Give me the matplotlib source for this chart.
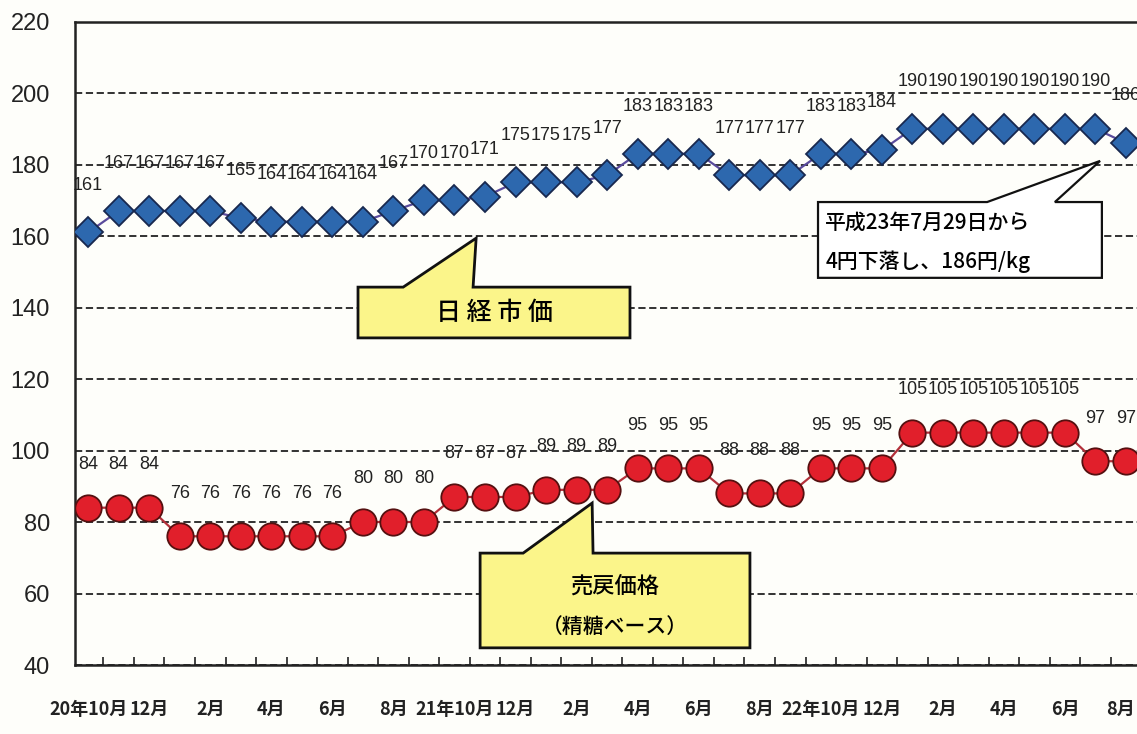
import numpy as np
import matplotlib.pyplot as plt
import matplotlib.transforms as mtransforms
from matplotlib.patches import Polygon

# 数字は Liberation Sans、日本語は Noto Sans CJK JP
plt.rcParams['font.family'] = ['Liberation Sans', 'Noto Sans CJK JP', 'DejaVu Sans']

# データ（20年10月〜23年8月、月次）
months = ['20年10月', '11月', '12月', '1月', '2月', '3月', '4月', '5月', '6月', '7月', '8月', '9月',
          '21年10月', '11月', '12月', '1月', '2月', '3月', '4月', '5月', '6月', '7月', '8月', '9月',
          '22年10月', '11月', '12月', '1月', '2月', '3月', '4月', '5月', '6月', '7月', '8月']
nikkei = [161, 167, 167, 167, 167, 165, 164, 164, 164, 164, 167, 170,
          170, 171, 175, 175, 175, 177, 183, 183, 183, 177, 177, 177,
          183, 183, 184, 190, 190, 190, 190, 190, 190, 190, 186]
baikon = [84, 84, 84, 76, 76, 76, 76, 76, 76, 80, 80, 80,
          87, 87, 87, 89, 89, 89, 95, 95, 95, 88, 88, 88,
          95, 95, 95, 105, 105, 105, 105, 105, 105, 97, 97]
yticks = [40, 60, 80, 100, 120, 140, 160, 180, 200, 220]

bg = '#fefefa'
jp = ['Noto Sans CJK JP', 'DejaVu Sans']
fig = plt.figure(figsize=(11.37, 7.34), dpi=100, facecolor=bg)
ax = fig.add_axes([0.066, 0.094, 0.934, 0.8767], facecolor=bg)

x = np.arange(len(months))
ax.plot(x, nikkei, color='#5a4b9c', lw=1.6, marker='D', ms=15,
        mfc='#2d68ae', mec='#18284f', mew=1.3, zorder=4)
ax.plot(x, baikon, color='#b3303a', lw=1.6, marker='o', ms=19,
        mfc='#e11f2b', mec='#551010', mew=1.3, zorder=4)

# データラベル
for xi, v in zip(x, nikkei):
    ax.annotate(str(v), (xi, v), xytext=(0, 34), textcoords='offset points',
                ha='center', va='center', fontsize=13, color='#222222', zorder=3)
for xi, v in zip(x, baikon):
    ax.annotate(str(v), (xi, v), xytext=(0, 31), textcoords='offset points',
                ha='center', va='center', fontsize=13, color='#222222', zorder=3)

ax.set_xlim(-0.43, 34.36)
ax.set_ylim(40, 220)
ax.set_yticks(yticks)
ax.tick_params(axis='y', length=0, pad=18, labelsize=17, labelcolor='#222222')
ax.set_xticks(x[::2])
ax.set_xticklabels(months[::2], family=jp, fontsize=13, weight='bold', color='#222222')
ax.tick_params(axis='x', which='major', length=0, pad=25)
ax.set_xticks(x[:-1] + 0.5, minor=True)
ax.tick_params(axis='x', which='minor', direction='in', length=6, width=1.2, color='#222222')

# 右端の「8月」が切れないよう少し左へ
last = ax.get_xticklabels()[-1]
last.set_transform(last.get_transform() + mtransforms.ScaledTranslation(-4 / 72, 0, fig.dpi_scale_trans))

ax.grid(axis='y', ls=(0, (4, 2)), color='#222222', lw=1.3)
for s in ['left', 'bottom', 'top']:
    ax.spines[s].set_linewidth(1.8)
    ax.spines[s].set_color('#222222')
ax.spines['right'].set_visible(False)


def callout(x0, x1, y0, y1, b0, b1, tip, fc, lw):
    pts = [(x0, y0), (x1, y0), (x1, y1), (b1, y1), tip, (b0, y1), (x0, y1)]
    ax.add_patch(Polygon(pts, closed=True, fc=fc, ec='#111111', lw=lw, zorder=6))


# 吹き出し
callout(8.84, 17.75, 131.5, 145.7, 10.32, 12.61, (12.71, 159.4), '#fbf58a', 2.0)
ax.text(13.3, 138.6, '日 経 市 価', ha='center', va='center', fontsize=18,
        family=jp, weight='medium', zorder=7)

callout(12.84, 21.68, 44.8, 71.3, 14.25, 16.54, (16.51, 85.3), '#fbf58a', 2.0)
ax.text(17.26, 62.0, '売戻価格', ha='center', va='center', fontsize=16,
        family=jp, weight='medium', zorder=7)
ax.text(17.26, 50.6, '（精糖ベース）', ha='center', va='center', fontsize=15,
        family=jp, weight='medium', zorder=7)

callout(23.91, 33.21, 148.3, 169.5, 29.45, 31.67, (33.15, 181.0), 'white', 1.6)
ax.text(24.15, 163.6, '平成23年7月29日から', ha='left', va='center', fontsize=15,
        family=jp, weight='medium', zorder=7)
ax.text(24.15, 152.7, '4円下落し、186円/kg', ha='left', va='center', fontsize=15,
        family=jp, weight='medium', zorder=7)

plt.savefig('out.png', dpi=100, facecolor=bg)
